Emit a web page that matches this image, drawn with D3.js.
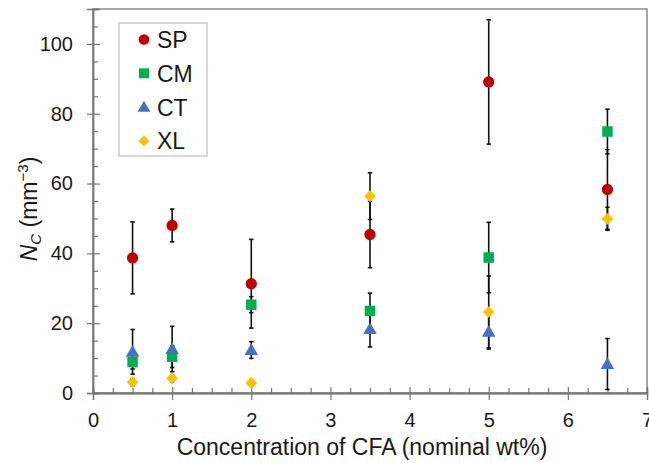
<!DOCTYPE html>
<html>
<head>
<meta charset="utf-8">
<script src="https://cdn.jsdelivr.net/npm/d3@7"></script>
<style>
  html, body { margin: 0; padding: 0; background: #fff; }
  svg { display: block; font-family: "Liberation Sans", Arial, sans-serif; }
</style>
</head>
<body>
<svg id="chart" width="649" height="463"></svg>
<script>
// ---- data ----
const concentrations = [0.5, 1, 2, 3.5, 5, 6.5];
const seriesNames = ["SP", "CM", "CT", "XL"];
const spValues = [38.7, 48.0, 31.3, 45.4, 89.1, 58.3];
const spErrors = [10.3, 4.7, 12.7, 9.5, 17.8, 11.4];
const cmValues = [8.9, 10.4, 25.3, 23.5, 38.8, 74.9];
const cmErrors = [2.0, 3.1, 2.3, 5.1, 10.1, 6.4];
const ctValues = [11.8, 12.6, 12.3, 18.3, 17.5, 8.3];
const ctErrors = [6.4, 6.5, 2.4, 5.1, 4.9, 7.3];
const xlValues = [3.1, 4.2, 2.9, 56.4, 23.2, 49.9];
const xlErrors = [1.0, 1.0, 0.8, 6.7, 10.3, 3.3];
const xTicks = [0, 1, 2, 3, 4, 5, 6, 7];
const yTicks = [0, 20, 40, 60, 80, 100];
const xTitle = "Concentration of CFA (nominal wt%)";

const colors = { SP: "#C00000", CM: "#00B050", CT: "#4472C4", XL: "#FFC000" };
const symbols = { SP: d3.symbolCircle, CM: d3.symbolSquare, CT: d3.symbolTriangle, XL: d3.symbolSquare };
const symSize = { SP: 100, CM: 110, CT: 80, XL: 68 };
const symRotate = { SP: 0, CM: 0, CT: 0, XL: 45 };
const symShift = { SP: 0, CM: 0, CT: 1, XL: 0 };

const series = [
  { name: "SP", values: spValues, errors: spErrors },
  { name: "CM", values: cmValues, errors: cmErrors },
  { name: "CT", values: ctValues, errors: ctErrors },
  { name: "XL", values: xlValues, errors: xlErrors }
];

// ---- layout ----
const svg = d3.select("#chart");
const mLeft = 93, mRight = 647, mTop = 9, mBottom = 393;
const x = d3.scaleLinear().domain([0, 7]).range([mLeft, mRight]);
const y = d3.scaleLinear().domain([0, 110]).range([mBottom, mTop]);
const axisColor = "#767676";
const textColor = "#1a1a1a";

// frame
svg.append("rect")
  .attr("x", mLeft).attr("y", mTop)
  .attr("width", mRight - mLeft).attr("height", mBottom - mTop)
  .attr("fill", "none").attr("stroke", axisColor).attr("stroke-width", 1.3);

// minor ticks
const xMinor = d3.range(0, 7.001, 0.25).filter(v => Math.abs(v - Math.round(v)) > 1e-6);
const yMinor = d3.range(0, 110.001, 5).filter(v => v % 20 !== 0);

const gxMinor = svg.append("g").attr("transform", `translate(0,${mBottom})`)
  .call(d3.axisTop(x).tickValues(xMinor).tickSize(5).tickFormat(""));
const gyMinor = svg.append("g").attr("transform", `translate(${mLeft},0)`)
  .call(d3.axisRight(y).tickValues(yMinor).tickSize(5).tickFormat(""));

// major ticks inside
const gxIn = svg.append("g").attr("transform", `translate(0,${mBottom})`)
  .call(d3.axisTop(x).tickValues(xTicks).tickSize(6).tickFormat(""));
const gyIn = svg.append("g").attr("transform", `translate(${mLeft},0)`)
  .call(d3.axisRight(y).tickValues(yTicks).tickSize(7).tickFormat(""));

// major ticks outside with labels
const gx = svg.append("g").attr("transform", `translate(0,${mBottom})`)
  .call(d3.axisBottom(x).tickValues(xTicks).tickSize(7).tickPadding(13).tickFormat(d3.format("d")));
const gy = svg.append("g").attr("transform", `translate(${mLeft},0)`)
  .call(d3.axisLeft(y).tickValues(yTicks).tickSize(6).tickPadding(14).tickFormat(d3.format("d")));

[gxMinor, gyMinor, gxIn, gyIn, gx, gy].forEach(g => {
  g.select(".domain").attr("stroke", axisColor).attr("stroke-width", 1.3);
  g.selectAll(".tick line").attr("stroke", axisColor).attr("stroke-width", 1.2);
  g.selectAll(".tick text").attr("fill", textColor)
    .style("font-size", "20px").style("font-family", "'Liberation Sans', Arial, sans-serif");
});

// axis titles
svg.append("text")
  .attr("x", 362).attr("y", 455)
  .attr("text-anchor", "middle")
  .attr("fill", textColor)
  .style("font-size", "23px")
  .text(xTitle);

const yt = svg.append("text")
  .attr("transform", "translate(37,209) rotate(-90)")
  .attr("text-anchor", "middle")
  .attr("fill", textColor)
  .style("font-size", "23px");
yt.append("tspan").style("font-style", "italic").text("N");
yt.append("tspan").style("font-style", "italic").style("font-size", "15px").attr("dy", 4).text("C");
yt.append("tspan").attr("dy", -4).text(" (mm");
yt.append("tspan").style("font-size", "15px").attr("dy", -9).text("\u22123");
yt.append("tspan").attr("dy", 9).text(")");

// error bars
const capW = 2.2;
const plot = svg.append("g");
series.forEach(s => {
  const g = plot.append("g");
  concentrations.forEach((c, i) => {
    const v = s.values[i], e = s.errors[i];
    const cx = x(c);
    g.append("line").attr("x1", cx).attr("x2", cx)
      .attr("y1", y(v - e)).attr("y2", y(v + e))
      .attr("stroke", "#111").attr("stroke-width", 1.6);
    [v - e, v + e].forEach(t => {
      g.append("line").attr("x1", cx - capW).attr("x2", cx + capW)
        .attr("y1", y(t)).attr("y2", y(t))
        .attr("stroke", "#111").attr("stroke-width", 1.6);
    });
  });
});

// markers
series.forEach(s => {
  const sym = d3.symbol().type(symbols[s.name]).size(symSize[s.name]);
  plot.append("g").selectAll("path")
    .data(concentrations.map((c, i) => [c, s.values[i]]))
    .join("path")
    .attr("d", sym)
    .attr("transform", d => `translate(${x(d[0])},${y(d[1]) + symShift[s.name]}) rotate(${symRotate[s.name]})`)
    .attr("fill", colors[s.name]);
});

// legend
const lg = svg.append("g");
lg.append("rect").attr("x", 119).attr("y", 23).attr("width", 88).attr("height", 133)
  .attr("fill", "#fff").attr("stroke", "#bfbfbf").attr("stroke-width", 1.2);
seriesNames.forEach((n, i) => {
  const cy = 39.5 + i * 33.8;
  lg.append("path")
    .attr("d", d3.symbol().type(symbols[n]).size(symSize[n] * 0.9)())
    .attr("transform", `translate(144,${cy + symShift[n]}) rotate(${symRotate[n]})`)
    .attr("fill", colors[n]);
  lg.append("text").attr("x", 157).attr("y", cy + 8.5)
    .attr("fill", textColor).style("font-size", "23px").text(n);
});
</script>
</body>
</html>
